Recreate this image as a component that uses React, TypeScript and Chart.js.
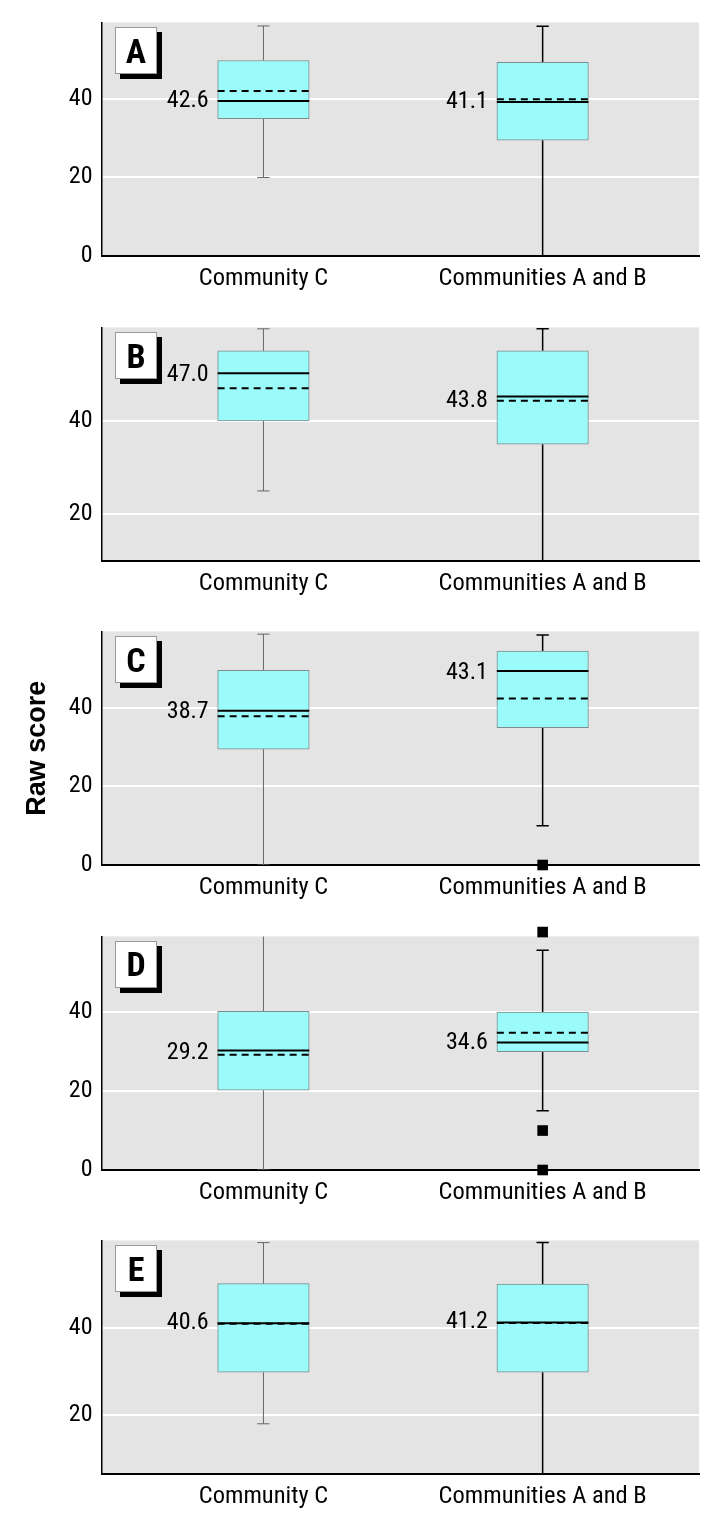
import React, { useEffect, useRef } from 'react';
import { Chart, registerables } from 'chart.js';

Chart.register(...registerables);

// ---------- data ----------
const PANELS = ['A', 'B', 'C', 'D', 'E'];
const GROUPS = ['Community C', 'Communities A and B'];
const GROUP_X = [1, 2];
const Y_MIN = [0, 10, 0, 0, 6.5];
const Y_MAX = [59.5, 60, 59.5, 59.2, 60];
const Y_TICKS = [[0, 20, 40], [20, 40], [0, 20, 40], [0, 20, 40], [20, 40]];
// each row: [Community C, Communities A and B]
const WHISKER_LOW = [[20, 0], [25, 10], [0, 10], [0, 15], [18, 6.5]];
const Q1 = [[35, 29.5], [40, 35], [29.5, 35], [20.2, 30], [29.8, 29.8]];
const MEDIAN = [[39.5, 39.2], [50.2, 45.2], [39.3, 49.4], [30.3, 32.3], [41, 41.2]];
const MEAN_LINE = [[42, 39.9], [47, 44.3], [37.9, 42.4], [29.2, 34.8], [40.9, 41.1]];
const Q3 = [[49.8, 49.3], [55, 55], [49.6, 54.5], [40.2, 40], [50.1, 50]];
const WHISKER_HIGH = [[58.6, 58.5], [59.7, 59.7], [58.8, 58.6], [59.5, 55.7], [59.5, 59.5]];
const OUTLIERS = [[[], []], [[], []], [[], [0]], [[], [60.3, 10, 0]], [[], []]];
const MEAN_LABELS = [['42.6', '41.1'], ['47.0', '43.8'], ['38.7', '43.1'], ['29.2', '34.6'], ['40.6', '41.2']];
const LABEL_Y = [[39.5, 39.3], [49.8, 44.3], [38.9, 49], [29.6, 32.1], [41, 41.2]];

// ---------- layout / style ----------
const PLOT_TOP = [19.3, 324, 628.3, 932.7, 1237.3];
const PAD_TOP = 20;
const PLOT_H = 237;
const XAXIS_H = 42;
const CANVAS_W = 717;
const CANVAS_H = PAD_TOP + PLOT_H + XAXIS_H;
const X_MIN = 0.42;
const X_MAX = 2.56;
const BOX_PX = 91.5;
const BOX_HALF_X = 0.164;
const CAP_HALF_X = 0.022;
const NARROW = '"Roboto Condensed", "DejaVu Sans Condensed", sans-serif';
const BOLD = '"Liberation Sans", Arial, sans-serif';
const BG = '#e4e4e4';
const BOX_FILL = '#9bfbfb';
const BOX_EDGE = '#7d8c8c';

function buildDatasets(i: number) {
  const ds: any[] = [];
  GROUP_X.forEach((x, g) => {
    const wc = g === 0 ? '#666666' : '#000000';
    const ww = g === 0 ? 1 : 1.5;
    const seg = (data: any[], extra: any = {}) => ({
      type: 'line',
      data,
      borderColor: wc,
      borderWidth: ww,
      pointRadius: 0,
      fill: false,
      order: 3,
      ...extra,
    });
    ds.push(seg([{ x, y: WHISKER_LOW[i][g] }, { x, y: Q1[i][g] }]));
    ds.push(seg([{ x, y: Q3[i][g] }, { x, y: WHISKER_HIGH[i][g] }]));
    ds.push(seg([{ x: x - CAP_HALF_X, y: WHISKER_LOW[i][g] }, { x: x + CAP_HALF_X, y: WHISKER_LOW[i][g] }]));
    ds.push(seg([{ x: x - CAP_HALF_X, y: WHISKER_HIGH[i][g] }, { x: x + CAP_HALF_X, y: WHISKER_HIGH[i][g] }]));
    ds.push(seg([{ x: x - BOX_HALF_X, y: MEDIAN[i][g] }, { x: x + BOX_HALF_X, y: MEDIAN[i][g] }], {
      borderColor: '#000', borderWidth: 2, order: 1,
    }));
    ds.push(seg([{ x: x - BOX_HALF_X, y: MEAN_LINE[i][g] }, { x: x + BOX_HALF_X, y: MEAN_LINE[i][g] }], {
      borderColor: '#000', borderWidth: 2, borderDash: [7, 5], order: 0,
    }));
    if (OUTLIERS[i][g].length) {
      ds.push({
        type: 'scatter',
        data: OUTLIERS[i][g].map((y: number) => ({ x, y })),
        pointStyle: 'rect',
        pointRadius: 7.5,
        backgroundColor: '#000',
        borderColor: '#000',
        borderWidth: 0,
        clip: false,
        order: -1,
      });
    }
  });
  ds.push({
    type: 'bar',
    data: GROUP_X.map((x, g) => ({ x, y: [Q1[i][g], Q3[i][g]] })),
    backgroundColor: BOX_FILL,
    borderColor: BOX_EDGE,
    borderWidth: 1,
    borderSkipped: false,
    barThickness: BOX_PX,
    grouped: false,
    order: 2,
  });
  return ds;
}

function Panel({ index }: { index: number }) {
  const ref = useRef<HTMLCanvasElement | null>(null);
  useEffect(() => {
    const i = index;
    const decor = {
      id: 'decor',
      beforeDraw(chart: any) {
        const { ctx, chartArea: a } = chart;
        ctx.save();
        ctx.fillStyle = BG;
        ctx.fillRect(a.left, a.top, a.right - a.left, a.bottom - a.top);
        ctx.restore();
      },
      afterDatasetsDraw(chart: any) {
        const { ctx } = chart;
        const xs = chart.scales.x;
        const ys = chart.scales.y;
        ctx.save();
        ctx.font = `24px ${NARROW}`;
        ctx.fillStyle = '#000';
        ctx.textAlign = 'right';
        ctx.textBaseline = 'middle';
        GROUP_X.forEach((x, g) => {
          const px = xs.getPixelForValue(x) - BOX_PX / 2 - 9;
          const py = ys.getPixelForValue(LABEL_Y[i][g]);
          ctx.fillText(MEAN_LABELS[i][g], px, py);
        });
        ctx.restore();
      },
    };
    const chart = new Chart(ref.current as HTMLCanvasElement, {
      type: 'line',
      data: { datasets: buildDatasets(i) },
      plugins: [decor],
      options: {
        animation: false,
        responsive: false,
        devicePixelRatio: 1,
        events: [],
        layout: { padding: { top: PAD_TOP, right: 18, left: 0, bottom: 0 } },
        plugins: { legend: { display: false }, tooltip: { enabled: false } },
        scales: {
          x: {
            type: 'linear',
            min: X_MIN,
            max: X_MAX,
            offset: false,
            grid: { display: false, offset: false },
            border: { color: '#000', width: 2 },
            ticks: {
              color: '#000',
              font: { family: NARROW, size: 24.5 },
              padding: 0,
              maxRotation: 0,
              autoSkip: false,
              callback: (v: any) => (v === 1 ? GROUPS[0] : v === 2 ? GROUPS[1] : ''),
            },
            afterBuildTicks: (s: any) => { s.ticks = GROUP_X.map((value) => ({ value })); },
            afterFit: (s: any) => { s.height = XAXIS_H; },
          },
          y: {
            type: 'linear',
            min: Y_MIN[i],
            max: Y_MAX[i],
            grid: {
              color: (c: any) => (c.tick && c.tick.value === 0 ? 'rgba(0,0,0,0)' : '#ffffff'),
              lineWidth: 2,
              drawTicks: false,
            },
            border: { color: '#000', width: 1.5 },
            ticks: {
              color: '#000',
              font: { family: NARROW, size: 24 },
              padding: 9,
            },
            title: {
              display: i === 2,
              text: 'Raw score',
              color: '#000',
              font: { family: BOLD, size: 27, weight: 'bold' },
              padding: { top: 21, bottom: 0 },
            },
            afterBuildTicks: (s: any) => { s.ticks = Y_TICKS[i].map((value) => ({ value })); },
            afterFit: (s: any) => { s.width = 101.5; },
          },
        },
      } as any,
    } as any);
    return () => chart.destroy();
  }, [index]);
  const top = PLOT_TOP[index] - PAD_TOP;
  return (
    <>
      <canvas
        ref={ref}
        width={CANVAS_W}
        height={CANVAS_H}
        style={{ position: 'absolute', left: 0, top, width: CANVAS_W, height: CANVAS_H, display: 'block' }}
      />
      <div
        style={{
          position: 'absolute',
          left: 115,
          top: PLOT_TOP[index] + 8,
          width: 40,
          height: 45,
          background: '#fff',
          border: '1px solid #999',
          boxShadow: '5px 5px 0 #000',
          font: `bold 34px ${NARROW}`,
          color: '#000',
          display: 'flex',
          alignItems: 'center',
          justifyContent: 'center',
          lineHeight: 1,
        }}
      >
        {PANELS[index]}
      </div>
    </>
  );
}

export default function App() {
  return (
    <div style={{ position: 'absolute', left: 0, top: 0, width: 717, height: 1518, background: '#fff' }}>
      {PANELS.map((p, i) => (
        <Panel key={p} index={i} />
      ))}
    </div>
  );
}
